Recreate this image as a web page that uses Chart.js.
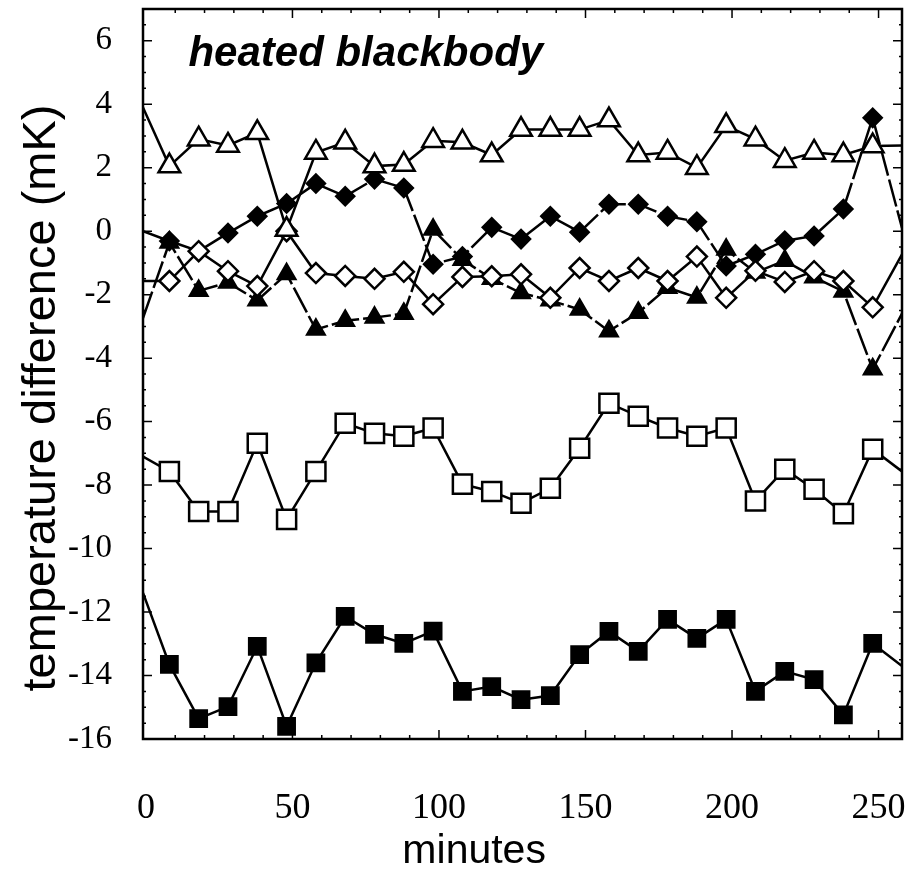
<!DOCTYPE html>
<html>
<head>
<meta charset="utf-8">
<script src="https://cdn.jsdelivr.net/npm/chart.js@4.4.1/dist/chart.umd.min.js"></script>
<style>
  html, body { margin: 0; padding: 0; background: #fff; }
</style>
</head>
<body>
<canvas id="chart" width="912" height="881"></canvas>
<script>
// sample times (first and last entries are where the lines leave the frame)
const minutes = [-1, 8, 18, 28, 38, 48, 58, 68, 78, 88, 98, 108, 118, 128, 138, 148, 158, 168, 178, 188, 198, 208, 218, 228, 238, 248, 258];

// temperature differences in mK
const openTriangles = [3.9, 2.05, 2.9, 2.7, 3.1, 0.05, 2.48, 2.8, 2.05, 2.1, 2.85, 2.8, 2.4, 3.2, 3.2, 3.2, 3.5, 2.4, 2.48, 2.0, 3.32, 2.9, 2.22, 2.48, 2.4, 2.68, 2.7];
const filledDiamonds = [0.0, -0.31, -0.63, -0.06, 0.47, 0.87, 1.5, 1.1, 1.64, 1.36, -1.04, -0.8, 0.12, -0.25, 0.47, -0.03, 0.85, 0.85, 0.47, 0.3, -1.1, -0.73, -0.3, -0.15, 0.7, 3.57, 0.1];
const openDiamonds = [-1.57, -1.57, -0.63, -1.26, -1.73, 0.0, -1.32, -1.41, -1.5, -1.28, -2.3, -1.44, -1.42, -1.36, -2.1, -1.16, -1.57, -1.16, -1.57, -0.8, -2.1, -1.25, -1.6, -1.26, -1.57, -2.4, -0.73];
const filledTriangles = [-2.74, -0.36, -1.88, -1.62, -2.18, -1.35, -3.1, -2.82, -2.72, -2.6, 0.05, -0.9, -1.5, -1.95, -2.18, -2.47, -3.15, -2.57, -1.78, -2.09, -0.58, -1.3, -0.93, -1.45, -1.9, -4.35, -2.6];
const openSquares = [-7.1, -7.57, -8.83, -8.83, -6.68, -9.08, -7.57, -6.05, -6.37, -6.46, -6.2, -7.97, -8.2, -8.57, -8.1, -6.84, -5.42, -5.83, -6.2, -6.46, -6.2, -8.5, -7.5, -8.13, -8.9, -6.87, -7.57];
const filledSquares = [-11.4, -13.65, -15.36, -14.98, -13.08, -15.6, -13.6, -12.14, -12.7, -12.99, -12.6, -14.5, -14.35, -14.76, -14.63, -13.34, -12.61, -13.24, -12.23, -12.83, -12.23, -14.5, -13.87, -14.13, -15.24, -12.99, -13.7];

const xTicks = [0, 50, 100, 150, 200, 250];
const yTicks = [-16, -14, -12, -10, -8, -6, -4, -2, 0, 2, 4, 6];

function pts(values) {
  return values.map((v, i) => ({ x: minutes[i], y: v }));
}

// no marker on the two points that sit on the frame
function edgeless(r) {
  return ctx => (ctx.dataIndex === 0 || ctx.dataIndex === minutes.length - 1) ? 0 : r;
}

function series(values, style, radius, filled, dash) {
  return {
    data: pts(values),
    showLine: true,
    borderColor: '#000',
    borderWidth: 2.5,
    borderDash: dash || [],
    pointStyle: style,
    pointRadius: edgeless(radius),
    pointHoverRadius: edgeless(radius),
    pointBackgroundColor: filled ? '#000' : '#fff',
    pointBorderColor: '#000',
    pointBorderWidth: 2.5
  };
}

// the scales' own label overflow padding would shrink the frame, drop it
function noPad(s) {
  s.paddingLeft = 0; s.paddingRight = 0; s.paddingTop = 0; s.paddingBottom = 0;
}

// frame, inward ticks and the text labels
const framePlugin = {
  id: 'frame',
  afterDraw(chart) {
    const { ctx, chartArea: a, scales: { x, y } } = chart;
    ctx.save();
    ctx.strokeStyle = '#000';
    ctx.lineWidth = 2.5;
    ctx.strokeRect(a.left, a.top, a.right - a.left, a.bottom - a.top);

    ctx.beginPath();
    for (let v = 10; v < 258; v += 10) {
      const px = x.getPixelForValue(v);
      const len = v % 50 === 0 ? 9 : 4;
      ctx.moveTo(px, a.bottom); ctx.lineTo(px, a.bottom - len);
      ctx.moveTo(px, a.top); ctx.lineTo(px, a.top + len);
    }
    for (let v = -15.5; v < 7; v += 0.5) {
      const py = y.getPixelForValue(v);
      const len = v % 2 === 0 ? 9 : 3;
      ctx.moveTo(a.left, py); ctx.lineTo(a.left + len, py);
      ctx.moveTo(a.right, py); ctx.lineTo(a.right - len, py);
    }
    ctx.lineWidth = 1.5;
    ctx.stroke();

    ctx.fillStyle = '#000';
    ctx.font = 'italic bold 42px "Liberation Sans"';
    ctx.textAlign = 'left';
    ctx.textBaseline = 'alphabetic';
    ctx.fillText('heated blackbody', x.getPixelForValue(14.5), y.getPixelForValue(5.2));

    ctx.font = '41px "Liberation Sans"';
    ctx.textAlign = 'center';
    ctx.textBaseline = 'middle';
    ctx.fillText('minutes', x.getPixelForValue(112), 852);

    ctx.font = '47px "Liberation Sans"';
    ctx.translate(42, 398);
    ctx.rotate(-Math.PI / 2);
    ctx.fillText('temperature difference (mK)', 0, 0);
    ctx.restore();
  }
};

new Chart(document.getElementById('chart'), {
  type: 'scatter',
  data: {
    datasets: [
      series(openTriangles, 'triangle', 12.5, false),
      series(openDiamonds, 'rectRot', 10, false),
      series(filledTriangles, 'triangle', 10, true, [28, 4]),
      series(filledDiamonds, 'rectRot', 9, true, [28, 4]),
      series(openSquares, 'rect', 13.5, false),
      series(filledSquares, 'rect', 11.5, true)
    ]
  },
  options: {
    responsive: false,
    animation: false,
    layout: { padding: { left: 0, top: 9, right: 10, bottom: 0 } },
    plugins: {
      legend: { display: false },
      tooltip: { enabled: false }
    },
    scales: {
      x: {
        type: 'linear',
        min: -1,
        max: 258,
        afterBuildTicks: s => { s.ticks = xTicks.map(v => ({ value: v })); },
        afterFit: s => { s.height = 142; noPad(s); },
        grid: { display: false, drawTicks: false },
        border: { display: false },
        ticks: {
          color: '#000',
          font: { family: 'Liberation Serif', size: 36 },
          padding: 48,
          maxRotation: 0,
          autoSkip: false
        }
      },
      y: {
        type: 'linear',
        min: -16,
        max: 7,
        afterBuildTicks: s => { s.ticks = yTicks.map(v => ({ value: v })); },
        afterFit: s => { s.width = 143; noPad(s); },
        grid: { display: false, drawTicks: false },
        border: { display: false },
        ticks: {
          color: '#000',
          font: { family: 'Liberation Serif', size: 33 },
          padding: 31,
          autoSkip: false
        }
      }
    }
  },
  plugins: [framePlugin]
});
</script>
</body>
</html>
